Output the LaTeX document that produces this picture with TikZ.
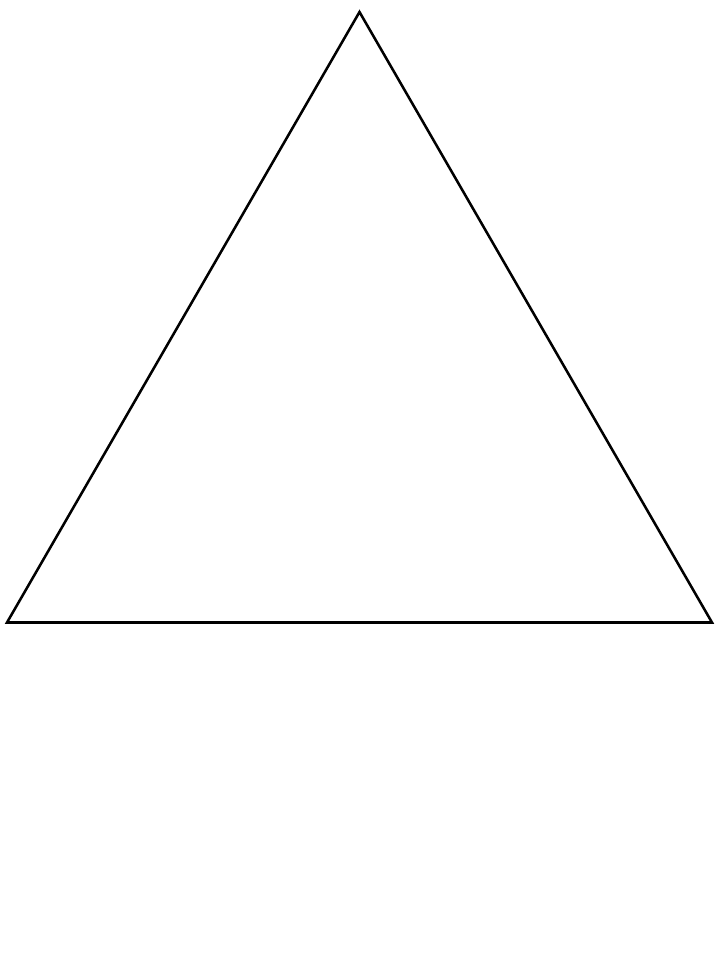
\documentclass[tikz,border=0pt]{standalone}
\begin{document}
\begin{tikzpicture}[x=0.75pt,y=-0.75pt,edge/.style={line width=1.9pt,draw=black}]
\useasboundingbox (0,0) rectangle (718,957);
\coordinate (A) at (359.5,12);
\coordinate (B) at (7,622.5);
\coordinate (C) at (712,622.5);
\draw[edge] (A) -- (B) -- (C) -- cycle;
\end{tikzpicture}
\end{document}
